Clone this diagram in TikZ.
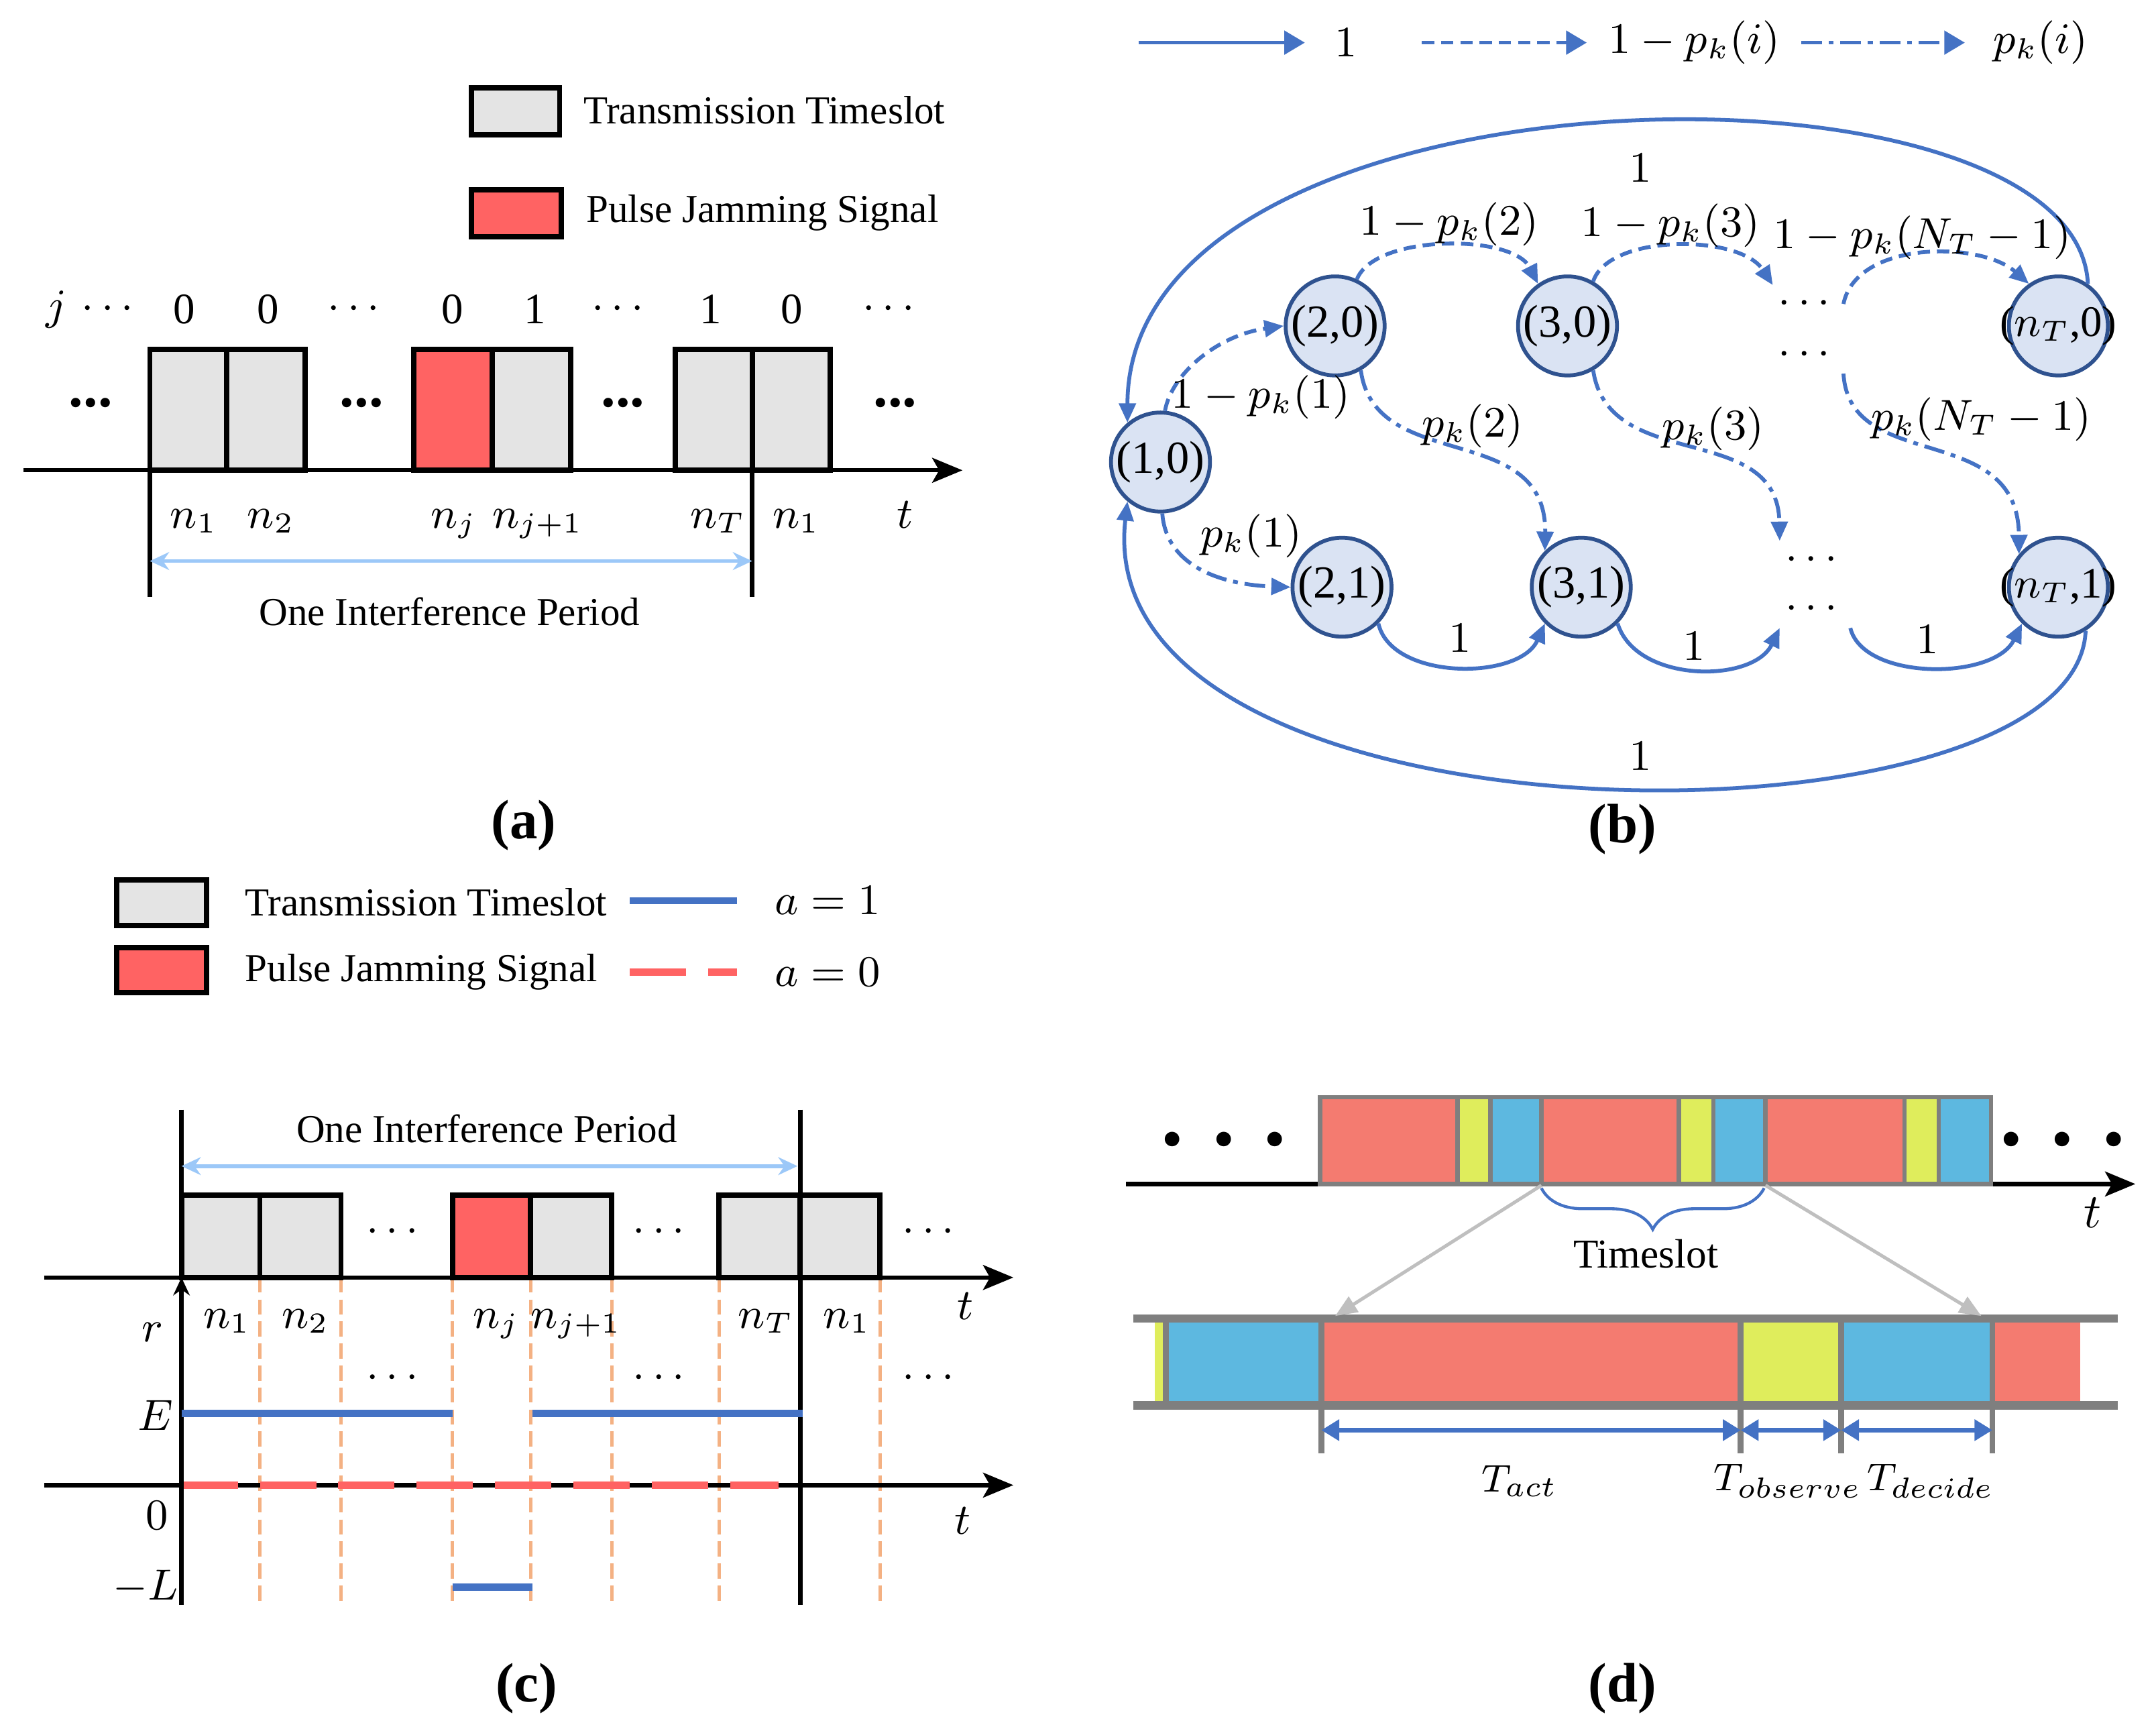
\documentclass[tikz,border=0pt]{standalone}
\usepackage{fontspec}
\setmainfont{Liberation Serif}
\usepackage{amsmath}
\usetikzlibrary{arrows.meta,decorations.pathreplacing}

\definecolor{slotgray}{HTML}{E4E4E4}
\definecolor{jamred}{HTML}{FF6363}
\definecolor{perblue}{HTML}{9CC8F8}
\definecolor{arrblue}{HTML}{4472C4}
\definecolor{statefill}{HTML}{DAE3F3}
\definecolor{stateline}{HTML}{2F528F}
\definecolor{cutorange}{HTML}{F4B183}
\definecolor{actred}{HTML}{F47B70}
\definecolor{obsyel}{HTML}{DFED5C}
\definecolor{decblue}{HTML}{5DB8E0}
\definecolor{framegray}{HTML}{7F7F7F}
\definecolor{zoomgray}{HTML}{BFBFBF}

\tikzset{
    slot/.style={draw=black, line width=1.1pt, fill=slotgray}, % 传输时隙
    jam/.style={draw=black, line width=1.1pt, fill=jamred}, % 脉冲干扰
    taxis/.style={line width=0.9pt, -{Stealth[length=2.2mm, width=1.8mm, inset=0.5mm]}},
    period/.style={draw=perblue, line width=0.8pt, {Stealth[length=1.4mm, width=1.3mm]}-{Stealth[length=1.4mm, width=1.3mm]}},
    mlab/.style={font=\fontsize{9}{11}\selectfont},
    tlab/.style={font=\fontsize{8}{10}\selectfont},
    bdots/.style={font=\fontsize{12}{14}\selectfont\bfseries},
    subcap/.style={font=\fontsize{11.5}{14}\selectfont\bfseries},
    eline/.style={draw=arrblue, line width=1.5pt},
    zline/.style={draw=jamred, line width=1.5pt, dash pattern=on 4.1mm off 1.6mm},
    vdash/.style={draw=cutorange, line width=0.7pt, dash pattern=on 1.1mm off 0.5mm},
    state/.style={circle, draw=stateline, fill=statefill, line width=0.8pt, minimum size=7.2mm, inner sep=0pt, font=\fontsize{9.5}{11}\selectfont},
    dotsnode/.style={inner sep=0pt, minimum width=5mm, minimum height=2.6mm, font=\fontsize{9}{11}\selectfont},
    one/.style={draw=arrblue, line width=0.8pt, -{Triangle[length=1.4mm, width=1.2mm]}},
    stay/.style={one, dash pattern=on 0.9mm off 0.5mm},
    hop/.style={one, dash pattern=on 1.5mm off 0.5mm on 0.35mm off 0.5mm},
    bigtip/.style={-{Triangle[length=1.5mm, width=1.7mm]}},
    seg/.style={draw=framegray, line width=0.9pt},
    rail/.style={draw=framegray, line width=1.7pt},
    sepln/.style={draw=framegray, line width=1.2pt},
    zoomln/.style={draw=zoomgray, line width=0.7pt, -{Triangle[length=1.6mm, width=1.3mm]}},
    spanarr/.style={draw=arrblue, line width=0.9pt, {Triangle[length=1.3mm, width=1.5mm]}-{Triangle[length=1.3mm, width=1.5mm]}}
}

\begin{document}
\begin{tikzpicture}[x=0.1mm, y=-0.1mm, font=\fontsize{8.2}{10}\selectfont]
\useasboundingbox (0,0) rectangle (1568,1260);

% ---------- (a) ----------
\draw[slot] (343,64) rectangle (407,98);
\node[anchor=west] (alg1) at (412,80) {Transmission Timeslot};
\draw[jam] (343,138) rectangle (408,172);
\node[anchor=west] (alg2) at (414,155) {Pulse Jamming Signal};
\foreach \x/\s [count=\i] in {41/$j$, 81/$\cdots$, 134/0, 195/0, 260/$\cdots$, 329/0, 389/1, 452/$\cdots$, 517/1, 576/0, 649/$\cdots$}
    \node[mlab] (aj\i) at (\x,225) {\s};
\foreach \a/\b in {109/165, 165/222, 358/415, 491/547, 547/604} \draw[slot] (\a,254) rectangle (\b,342);
\draw[jam] (301,254) rectangle (358,342);
\foreach \x [count=\i] in {66,263,453,651} \node[bdots] (ab\i) at (\x,293) {...};
\draw[taxis] (17,342) -- (700,342);
\draw[line width=0.9pt] (109,342) -- (109,434);
\draw[line width=0.9pt] (547,342) -- (547,434);
\foreach \x/\s [count=\i] in {141/$n_1$, 197/$n_2$, 330/$n_j$, 391/$n_{j+1}$, 522/$n_T$, 579/$n_1$, 658/$t$}
    \node[mlab, anchor=base] (an\i) at (\x,384) {\s};
\coordinate (ap0) at (109,408);
\coordinate (ap1) at (547,408);
\draw[period] (ap0) -- (ap1);
\node (aper) at (327,445) {One Interference Period};
\node[subcap] (capa) at (381,600) {(a)};

% ---------- (b) ----------
\coordinate (lg0) at (828,31); \coordinate (lg1) at (949,31);
\coordinate (lg2) at (1034,31); \coordinate (lg3) at (1154,31);
\coordinate (lg4) at (1310,31); \coordinate (lg5) at (1429,31);
\draw[one, bigtip] (lg0) -- (lg1);
\draw[stay, bigtip] (lg2) -- (lg3);
\draw[hop, bigtip] (lg4) -- (lg5);
\node[mlab] (lt1) at (979,31) {$1$};
\node[mlab] (lt2) at (1232,31) {$1-p_k(i)$};
\node[mlab] (lt3) at (1484,31) {$p_k(i)$};

\node[state] (s10) at (844,336) {\makebox[0pt]{(1,0)}};
\node[state] (s20) at (971,237) {\makebox[0pt]{(2,0)}};
\node[state] (s30) at (1140,237) {\makebox[0pt]{(3,0)}};
\node[state, font=\fontsize{9}{11}\selectfont] (sT0) at (1497,237) {\makebox[0pt]{($n_T$,0)}};
\node[state] (s21) at (976,427) {\makebox[0pt]{(2,1)}};
\node[state] (s31) at (1150,427) {\makebox[0pt]{(3,1)}};
\node[state, font=\fontsize{9}{11}\selectfont] (sT1) at (1497,427) {\makebox[0pt]{($n_T$,1)}};
\node[dotsnode] (g0a) at (1315,221) {$\cdots$};
\node[dotsnode] (g0b) at (1315,258) {$\cdots$};
\node[dotsnode] (g1a) at (1320,407) {$\cdots$};
\node[dotsnode] (g1b) at (1320,443) {$\cdots$};

% 外圈
\draw[one] (sT0.55) .. controls (1510,30) and (820,40) .. (s10.130);
\draw[one] (sT1.-58) .. controls (1510,625) and (790,625) .. (s10.-130);
% 1-p
\draw[stay] (s10.85) .. controls (852,272) and (885,244) .. (s20.180);
\draw[stay] (s20.65) .. controls (1000,170) and (1100,170) .. (s30.125);
\draw[stay] (s30.60) .. controls (1170,170) and (1265,170) .. (g0a.north west);
\draw[stay] (g0a.east) .. controls (1350,175) and (1440,175) .. (sT0.125);
% p
\draw[hop] (s10.-88) .. controls (848,410) and (885,425) .. (s21.180);
\draw[hop] (s20.-60) .. controls (1000,345) and (1125,305) .. (s31.135);
\draw[hop] (s30.-60) .. controls (1170,345) and (1293,305) .. (g1a.north west);
\draw[hop] (g0b.south east) .. controls (1345,345) and (1468,305) .. (sT1.140);
% 1
\draw[one] (s21.-45) .. controls (1012,495) and (1105,495) .. (s31.-135);
\draw[one] (s31.-45) .. controls (1190,497) and (1275,497) .. (g1b.south west);
\draw[one] (g1b.south east) .. controls (1355,495) and (1450,495) .. (sT1.-135);

\node[mlab] (q1) at (917,289) {$1-p_k(1)$};
\node[mlab] (q2) at (910,390) {$p_k(1)$};
\node[mlab] (q3) at (1054,163) {$1-p_k(2)$};
\node[mlab] (q4) at (1215,164) {$1-p_k(3)$};
\node[mlab] (q5) at (1398,173) {$1-p_k(N_T-1)$};
\node[mlab] (q6) at (1071,310) {$p_k(2)$};
\node[mlab] (q7) at (1246,312) {$p_k(3)$};
\node[mlab] (q8) at (1441,305) {$p_k(N_T-1)$};
\node[mlab] (q9) at (1193,122) {$1$};
\node[mlab] (q10) at (1193,550) {$1$};
\node[mlab] (q11) at (1062,464) {$1$};
\node[mlab] (q12) at (1232,470) {$1$};
\node[mlab] (q13) at (1402,465) {$1$};
\node[subcap] (capb) at (1180,603) {(b)};

% ---------- (c) ----------
\draw[slot] (85,640) rectangle (150,673);
\node[anchor=west] (clg1) at (166,656) {Transmission Timeslot};
\draw[jam] (85,689) rectangle (150,722);
\node[anchor=west] (clg2) at (166,707) {Pulse Jamming Signal};
\draw[eline] (458,655) -- (536,655);
\draw[zline] (458,707) -- (536,707);
\node[mlab] (ca1) at (602,655) {$a=1$};
\node[mlab] (ca0) at (602,707) {$a=0$};

\foreach \x in {189,248,329,386,445,523,640} \draw[vdash] (\x,929) -- (\x,1167);
\foreach \a/\b in {132/189, 189/248, 386/445, 523/582, 582/640} \draw[slot] (\a,869) rectangle (\b,929);
\draw[jam] (329,869) rectangle (386,929);
\draw[taxis] (32,929) -- (737,929);
\draw[taxis] (32,1080) -- (737,1080);
\draw[zline] (132,1080) -- (566,1080);
\draw[line width=0.9pt] (132,807) -- (132,929);
\draw[line width=0.9pt, -{Stealth[length=1.3mm, width=1.2mm]}] (132,1167) -- (132,929);
\draw[line width=0.9pt] (582,807) -- (582,1167);
\coordinate (cp0) at (132,848);
\coordinate (cp1) at (580,848);
\draw[period] (cp0) -- (cp1);
\node (cper) at (354,821) {One Interference Period};
\foreach \x [count=\i] in {288,482,678} {
    \node[mlab] (cu\i) at (\x,896) {$\cdots$};
    \node[mlab] (cv\i) at (\x,1002) {$\cdots$};
}
\foreach \x/\s [count=\i] in {165/$n_1$, 222/$n_2$, 361/$n_j$, 419/$n_{j+1}$, 557/$n_T$, 616/$n_1$}
    \node[mlab, anchor=base] (cn\i) at (\x,966) {\s};
\node[mlab] (ct1) at (702,950) {$t$};
\node[mlab] (ct2) at (700,1106) {$t$};
\node[mlab] (cr) at (111,969) {$r$};
\node[mlab] (cE) at (113,1029) {$E$};
\node[mlab] (c0) at (114,1102) {$0$};
\node[mlab] (cL) at (106,1154) {$-L$};
\draw[eline] (132,1028) -- (329,1028);
\draw[eline] (387,1028) -- (584,1028);
\draw[eline] (329,1154) -- (387,1154);
\node[subcap] (capc) at (383,1228) {(c)};

% ---------- (d) ----------
\draw[taxis] (819,861) -- (1553,861);
\foreach \a/\b/\c in {960/1060/actred, 1060/1084/obsyel, 1084/1121/decblue, 1121/1221/actred, 1221/1246/obsyel, 1246/1284/decblue, 1284/1385/actred, 1385/1410/obsyel, 1410/1448/decblue}
    \draw[seg, fill=\c] (\a,798) rectangle (\b,861);
\node[font=\fontsize{7}{8}\selectfont] (ddl) at (890,829) {$\bullet\hspace{4.7pt}\bullet\hspace{4.7pt}\bullet$};
\node[font=\fontsize{7}{8}\selectfont] (ddr) at (1500,829) {$\bullet\hspace{4.7pt}\bullet\hspace{4.7pt}\bullet$};
\node[font=\fontsize{10}{12}\selectfont] (dt) at (1522,882) {$t$};
\draw[decorate, decoration={brace, mirror, amplitude=3mm}, draw=arrblue, line width=0.6pt] (1121,864) -- (1283,864);
\node[font=\fontsize{8.5}{10}\selectfont] (dslot) at (1197,912) {Timeslot};
\foreach \a/\b/\c in {840/848/obsyel, 848/961/decblue, 961/1266/actred, 1266/1339/obsyel, 1339/1449/decblue, 1449/1513/actred}
    \fill[\c] (\a,959) rectangle (\b,1022);
\draw[rail] (824,959) -- (1540,959);
\draw[rail] (824,1022) -- (1540,1022);
\draw[sepln] (848,959) -- (848,1022);
\foreach \x in {961,1266,1339,1449} \draw[sepln] (\x,959) -- (\x,1057);
\draw[zoomln] (1121,862) -- (971,957);
\draw[zoomln] (1284,862) -- (1441,957);
\draw[spanarr] (961,1040) -- (1266,1040);
\draw[spanarr] (1266,1040) -- (1339,1040);
\draw[spanarr] (1339,1040) -- (1449,1040);
\node[tlab] (dact) at (1105,1077) {$T_{act}$};
\node[tlab] (dobs) at (1300,1077) {$T_{observe}$};
\node[tlab] (ddec) at (1404,1077) {$T_{decide}$};
\node[subcap] (capd) at (1180,1228) {(d)};
\end{tikzpicture}
\end{document}
